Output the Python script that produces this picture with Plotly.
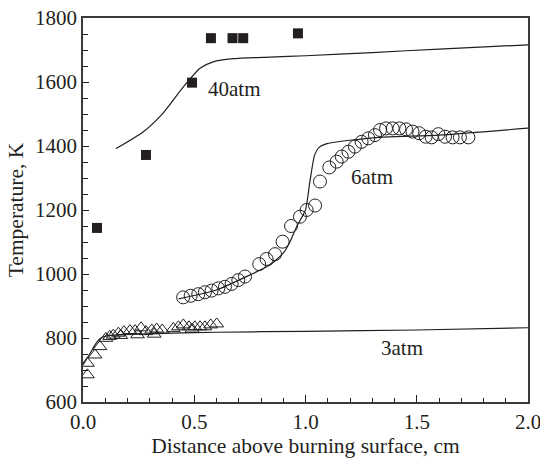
import plotly.graph_objects as go

# 40 atm: measured points and model curve
x40_pts = [0.063, 0.283, 0.49, 0.575, 0.672, 0.72, 0.966]
t40_pts = [1144, 1372, 1598, 1737, 1737, 1737, 1752]
x40_line = [0.148, 0.27, 0.36, 0.45, 0.526, 0.585, 0.674, 0.84, 1.0, 1.3, 1.6, 2.0]
t40_line = [1392, 1444, 1503, 1584, 1643, 1663, 1673, 1678, 1682, 1692, 1703, 1716]

# 6 atm: measured points and model curve
x6_pts = [0.45, 0.484, 0.518, 0.548, 0.578, 0.608, 0.638, 0.668, 0.698, 0.728,
          0.792, 0.825, 0.863, 0.897, 0.935, 0.975, 1.005, 1.043, 1.065, 1.107,
          1.14, 1.163, 1.193, 1.222, 1.252, 1.282, 1.312, 1.335, 1.362, 1.392,
          1.422, 1.452, 1.481, 1.511, 1.54, 1.567, 1.597, 1.627, 1.661, 1.694, 1.732]
t6_pts = [927, 932, 937, 943, 948, 955, 960, 969, 981, 992,
          1031, 1047, 1062, 1101, 1150, 1179, 1200, 1214, 1289, 1333,
          1351, 1367, 1382, 1398, 1413, 1424, 1434, 1450, 1455, 1455,
          1455, 1452, 1445, 1440, 1429, 1427, 1437, 1429, 1427, 1427, 1427]
x6_line = [0.43, 0.6, 0.75, 0.84, 0.9, 0.93, 0.96, 1.0, 1.02, 1.04, 1.06, 1.1, 1.2, 1.35, 1.6, 2.0]
t6_line = [922, 950, 997, 1028, 1065, 1100, 1148, 1200, 1290, 1370, 1395, 1408, 1418, 1428, 1434, 1456]

# 3 atm: measured points and model curve
x3_pts = [0.02, 0.02, 0.054, 0.076, 0.103, 0.12, 0.136, 0.159, 0.17, 0.184, 0.211,
          0.234, 0.245, 0.261, 0.283, 0.309, 0.32, 0.331, 0.356, 0.406, 0.429,
          0.451, 0.476, 0.49, 0.503, 0.526, 0.548, 0.574, 0.601]
t3_pts = [685, 721, 747, 773, 799, 805, 809, 815, 808, 820, 823,
          823, 810, 832, 820, 825, 812, 828, 825, 830, 835,
          841, 835, 828, 835, 835, 835, 841, 844]
x3_line = [0.0, 0.03, 0.06, 0.08, 0.12, 0.2, 0.4, 0.6, 1.0, 1.5, 2.0]
t3_line = [716, 750, 785, 800, 808, 811, 815, 818, 821, 825, 832]

# series labels
label_text = ["40atm", "6atm", "3atm"]
label_x = [0.683, 1.30, 1.434]
label_t = [1578, 1304, 769]

# axis ticks
x_tickvals = [0, 0.5, 1.0, 1.5, 2.0]
x_ticktext = ["0.0", "0.5", "1.0", "1.5", "2.0"]

INK = "#231f20"
FONT = "Liberation Serif"

fig = go.Figure()

line_style = dict(color=INK, width=1.2)
fig.add_trace(go.Scatter(x=x40_line, y=t40_line, mode="lines", line=dict(line_style, shape="spline", smoothing=0.6)))
fig.add_trace(go.Scatter(x=x6_line, y=t6_line, mode="lines", line=dict(line_style, shape="spline", smoothing=0.5)))
fig.add_trace(go.Scatter(x=x3_line, y=t3_line, mode="lines", line=dict(line_style, shape="spline", smoothing=0.6)))

fig.add_trace(go.Scatter(x=x3_pts, y=t3_pts, mode="markers",
                         marker=dict(symbol="triangle-up-open", size=12, color=INK, line=dict(width=1, color=INK))))
fig.add_trace(go.Scatter(x=x6_pts, y=t6_pts, mode="markers",
                         marker=dict(symbol="circle-open", size=13, color=INK, line=dict(width=1, color=INK))))
fig.add_trace(go.Scatter(x=x40_pts, y=t40_pts, mode="markers",
                         marker=dict(symbol="square", size=10, color=INK, line=dict(width=0))))

for txt, lx, ly in zip(label_text, label_x, label_t):
    fig.add_annotation(x=lx, y=ly, text=txt, showarrow=False,
                       font=dict(family=FONT, size=21, color=INK))

axis_common = dict(showline=True, linecolor="#3a3a3a", linewidth=1.5, mirror=True,
                   showgrid=False, zeroline=False, ticks="inside", tickcolor=INK,
                   automargin=False, ticklabeloverflow="allow",
                   tickfont=dict(family=FONT, size=21, color=INK))

fig.update_xaxes(range=[0, 2], tickvals=x_tickvals, ticktext=x_ticktext, ticklen=7, tickwidth=1,
                 minor=dict(ticks="inside", dtick=0.1, ticklen=4, tickcolor=INK, tickwidth=1),
                 title=dict(text="Distance above burning surface, cm", standoff=8,
                            font=dict(family=FONT, size=21.5, color=INK)),
                 **axis_common)
fig.update_yaxes(range=[600, 1800], dtick=200, ticklen=6, tickwidth=1,
                 minor=dict(ticks="inside", dtick=50, ticklen=5, tickcolor=INK, tickwidth=1),
                 title=dict(text="Temperature, K", standoff=6,
                            font=dict(family=FONT, size=21.5, color=INK)),
                 **axis_common)

fig.update_layout(width=540, height=458, margin=dict(l=83, r=12, t=18, b=56),
                  font=dict(family=FONT, color=INK),
                  paper_bgcolor="white", plot_bgcolor="white", showlegend=False)

fig.write_html("out.html")
